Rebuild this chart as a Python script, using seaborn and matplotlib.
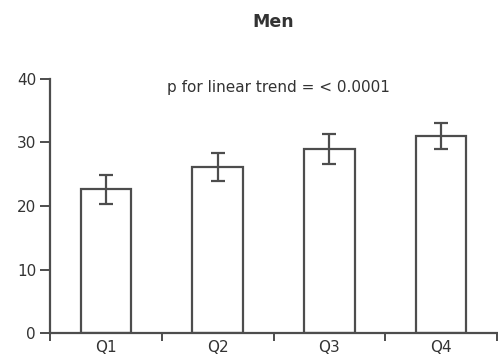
import matplotlib
matplotlib.use("Agg")
import matplotlib.pyplot as plt
import seaborn as sns
import pandas as pd
import numpy as np

categories = ["Q1", "Q2", "Q3", "Q4"]
means = [22.6, 26.1, 29.0, 31.0]
errors = [2.3, 2.2, 2.35, 2.0]
y_ticks = [0, 10, 20, 30, 40]
title = "Men"
annotation = "p for linear trend = < 0.0001"

sns.set_style("white")
plt.rcParams["font.family"] = ["DejaVu Sans"]

line_col = "#4d4d4d"
text_col = "#333333"

df = pd.DataFrame({"quartile": categories, "value": means})

fig = plt.figure(figsize=(4.98, 3.61), dpi=100)
ax = fig.add_axes([50/498, 28/361, 447/498, 254/361])

sns.barplot(data=df, x="quartile", y="value", order=categories, ax=ax,
            color="white", edgecolor=line_col, linewidth=1.6, width=0.45,
            errorbar=None)
ax.errorbar(x=np.arange(len(categories)), y=means, yerr=errors, fmt="none",
            ecolor=line_col, elinewidth=1.6, capsize=5, capthick=1.6)

ax.set_xlim(-0.5, len(categories) - 0.5)
ax.set_ylim(0, 40)
ax.set_yticks(y_ticks)
ax.set_xticks(np.arange(len(categories)))
ax.set_xticklabels(categories)
ax.set_xticks(np.arange(-0.5, len(categories)), minor=True)
ax.tick_params(axis="x", which="major", length=0, pad=5, labelsize=11, labelcolor=text_col)
ax.tick_params(axis="x", which="minor", direction="out", length=5.5, width=1.4, color=line_col, bottom=True)
ax.tick_params(axis="y", direction="out", length=7, width=1.4, color=line_col, left=True,
               labelsize=11, labelcolor=text_col, pad=3)
ax.set_xlabel("")
ax.set_ylabel("")
sns.despine(ax=ax)
for s in ["left", "bottom"]:
    ax.spines[s].set_color(line_col)
    ax.spines[s].set_linewidth(1.6)
ax.spines["left"].set_bounds(0, 40)

ax.text(1.54, 38.6, annotation, ha="center", va="center", fontsize=11, color=text_col)
fig.text(273/498, 1 - 22/361, title, ha="center", va="center", fontsize=12.5,
         fontweight="bold", color=text_col)

fig.savefig("out.png", dpi=100, facecolor="white")
